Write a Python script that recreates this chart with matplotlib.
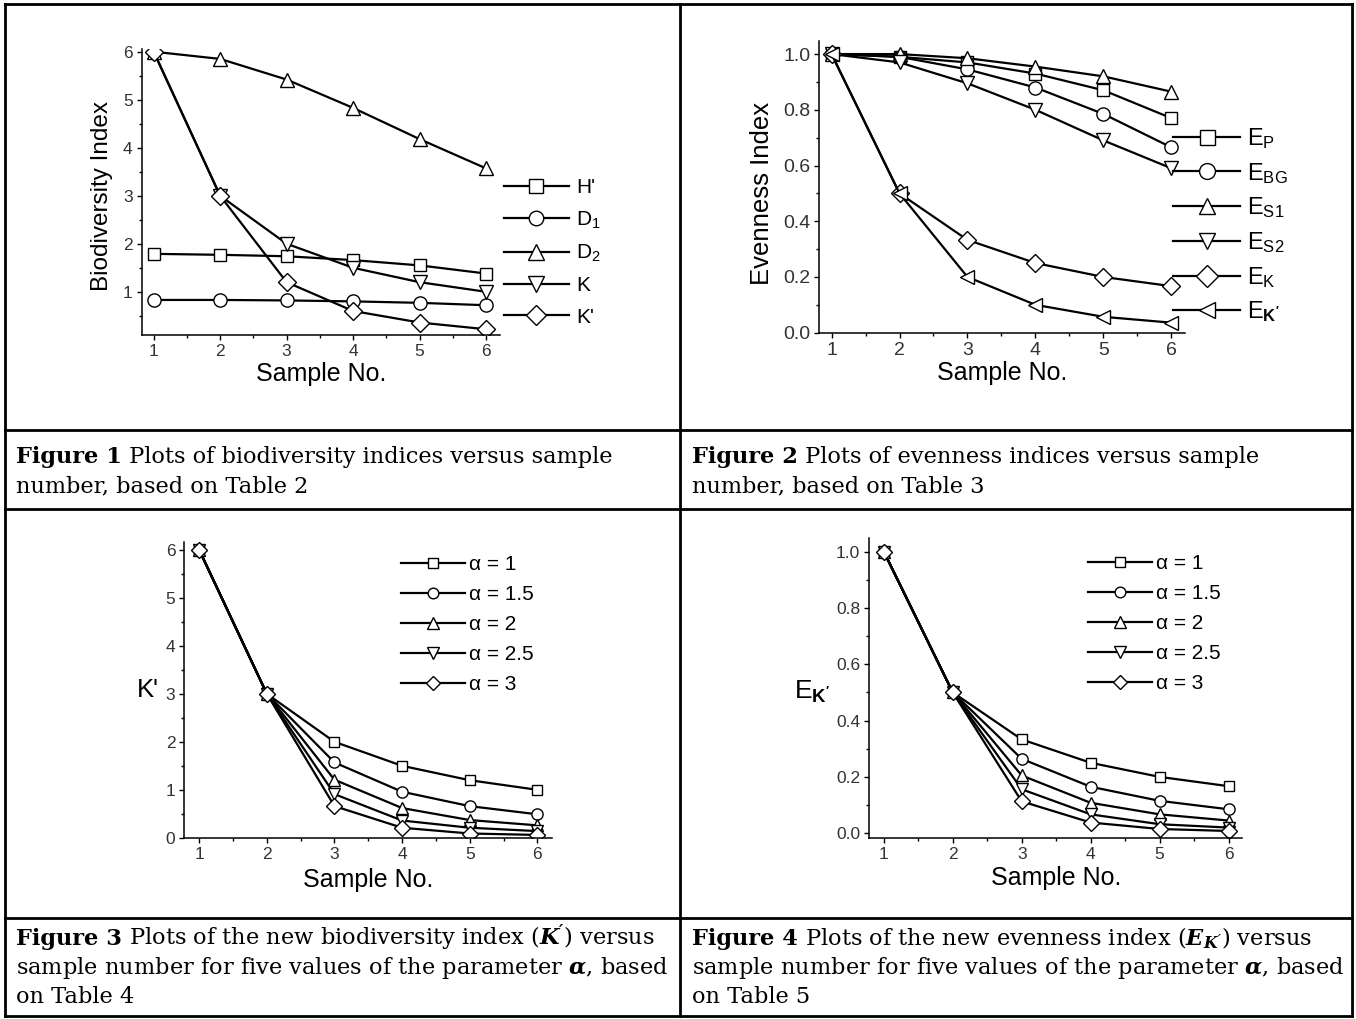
import matplotlib

matplotlib.use("Agg")

import matplotlib.pyplot as plt
from matplotlib.lines import Line2D
from matplotlib.ticker import MultipleLocator

W, H = 1356, 1019

plt.rcParams["font.family"] = ["Liberation Sans", "DejaVu Sans"]
plt.rcParams["mathtext.fontset"] = "custom"
plt.rcParams["mathtext.default"] = "regular"
plt.rcParams["mathtext.rm"] = "Liberation Sans"
plt.rcParams["mathtext.bf"] = "Liberation Sans:bold"
plt.rcParams["mathtext.bfit"] = "DejaVu Serif:italic:bold"

TICK_FONT = ["Liberation Sans Narrow", "Liberation Sans", "DejaVu Sans"]
CAP_FONT = ["DejaVu Serif", "Liberation Serif"]

samples = [1, 2, 3, 4, 5, 6]

# Figure 1 - biodiversity indices (Table 2)
bio_labels = ["H'", "D$_1$", "D$_2$", "K", "K'"]
bio_H = [1.79, 1.77, 1.74, 1.66, 1.55, 1.38]
bio_D1 = [0.83, 0.83, 0.82, 0.80, 0.77, 0.72]
bio_D2 = [6.0, 5.85, 5.42, 4.83, 4.18, 3.57]
bio_K = [6.0, 3.0, 2.0, 1.5, 1.2, 1.0]
bio_Kp = [6.0, 3.0, 1.2, 0.6, 0.36, 0.22]

# Figure 2 - evenness indices (Table 3)
even_labels = ["E$_{P}$", "E$_{BG}$", "E$_{S1}$", "E$_{S2}$", "E$_{K}$",
               r"E$_{\mathbf{K'}}$"]
even_P = [1.0, 0.99, 0.97, 0.93, 0.87, 0.77]
even_BG = [1.0, 0.99, 0.945, 0.88, 0.785, 0.665]
even_S1 = [1.0, 1.0, 0.985, 0.955, 0.92, 0.865]
even_S2 = [1.0, 0.97, 0.895, 0.80, 0.69, 0.59]
even_K = [1.0, 0.5, 0.333, 0.25, 0.2, 0.167]
even_Kp = [1.0, 0.5, 0.2, 0.1, 0.057, 0.036]

# Figure 3 - K' for five alpha values (Table 4)
alpha_labels = ["\u03b1 = 1", "\u03b1 = 1.5", "\u03b1 = 2", "\u03b1 = 2.5", "\u03b1 = 3"]
kp_a1 = [6.0, 3.0, 2.0, 1.5, 1.2, 1.0]
kp_a15 = [6.0, 3.0, 1.57, 0.96, 0.66, 0.49]
kp_a2 = [6.0, 3.0, 1.21, 0.62, 0.37, 0.26]
kp_a25 = [6.0, 3.0, 0.91, 0.36, 0.21, 0.14]
kp_a3 = [6.0, 3.0, 0.66, 0.21, 0.09, 0.06]

# Figure 4 - E_K' for five alpha values (Table 5)
ek_a1 = [1.0, 0.5, 0.333, 0.25, 0.2, 0.167]
ek_a15 = [1.0, 0.5, 0.264, 0.165, 0.115, 0.085]
ek_a2 = [1.0, 0.5, 0.205, 0.108, 0.067, 0.045]
ek_a25 = [1.0, 0.5, 0.156, 0.067, 0.032, 0.020]
ek_a3 = [1.0, 0.5, 0.113, 0.038, 0.015, 0.008]

MARKERS = ["s", "o", "^", "v", "D", "<"]
MSIZE = {"s": 9, "o": 9.5, "^": 10, "v": 10, "D": 9, "<": 10}

fig = plt.figure(figsize=(W / 100, H / 100), dpi=100)


def add_axes_px(l, t, r, b):
    return fig.add_axes([l / W, 1 - b / H, (r - l) / W, (b - t) / H])


def style_axes(ax, tick_size):
    for s in ("top", "right"):
        ax.spines[s].set_visible(False)
    for s in ("left", "bottom"):
        ax.spines[s].set_linewidth(1.1)
    ax.tick_params(which="major", direction="out", length=3.5, width=1,
                   labelsize=tick_size, labelcolor="#333333", pad=3,
                   labelfontfamily=TICK_FONT)
    ax.tick_params(which="minor", direction="out", length=2, width=1)
    ax.xaxis.set_major_locator(MultipleLocator(1))
    ax.xaxis.set_minor_locator(MultipleLocator(0.5))


def draw_series(ax, series, labels, scale=1.0, lw=1.6):
    for ys, lab, m in zip(series, labels, MARKERS):
        ax.plot(samples, ys, color="black", lw=lw, marker=m,
                markersize=MSIZE[m] * scale, markerfacecolor="white",
                markeredgecolor="black", markeredgewidth=1.0, label=lab)


def set_labels(ax, xlab_y, ylab, ylab_xy, ylab_size, ylab_rot=90):
    ax.set_xlabel("Sample No.", fontsize=18)
    ax.xaxis.label.set_va("center")
    ax.xaxis.set_label_coords(0.5, xlab_y)
    ax.set_ylabel(ylab, fontsize=ylab_size, rotation=ylab_rot)
    ax.yaxis.label.set_va("center")
    ax.yaxis.label.set_ha("center")
    ax.yaxis.set_label_coords(*ylab_xy)


def legend_at(ax, x, y, size, hlen, tpad, lspace, mscale):
    ax.legend(loc="upper left", bbox_to_anchor=(x / W, 1 - y / H),
              bbox_transform=fig.transFigure, frameon=False, fontsize=size,
              borderpad=0, borderaxespad=0, handlelength=hlen,
              handletextpad=tpad, labelspacing=lspace, markerscale=mscale)


# ---- Figure 1 ----
ax1 = add_axes_px(141.7, 49.3, 500, 335)
draw_series(ax1, [bio_H, bio_D1, bio_D2, bio_K, bio_Kp], bio_labels)
ax1.set_xlim(0.82, 6.21)
ax1.set_ylim(0.1, 6.05)
style_axes(ax1, 12.5)
ax1.yaxis.set_major_locator(MultipleLocator(1))
ax1.yaxis.set_minor_locator(MultipleLocator(0.5))
set_labels(ax1, -0.137, "Biodiversity Index", (-0.112, 0.487), 17.5)
legend_at(ax1, 504, 178, 15, 3.1, 0.35, 0.59, 1.1)

# ---- Figure 2 ----
ax2 = add_axes_px(819.3, 40.7, 1185, 332.7)
draw_series(ax2, [even_P, even_BG, even_S1, even_S2, even_K, even_Kp],
            even_labels)
ax2.set_xlim(0.82, 6.2)
ax2.set_ylim(0, 1.048)
style_axes(ax2, 14)
ax2.yaxis.set_major_locator(MultipleLocator(0.2))
ax2.yaxis.set_minor_locator(MultipleLocator(0.1))
ax2.yaxis.set_major_formatter(lambda v, p: f"{v:.1f}")
set_labels(ax2, -0.139, "Evenness Index", (-0.158, 0.477), 18.5)
legend_at(ax2, 1173, 126, 17, 2.85, 0.28, 0.415, 1.2)

# ---- Figure 3 ----
ax3 = add_axes_px(184.3, 541.7, 551.6, 838.3)
draw_series(ax3, [kp_a1, kp_a15, kp_a2, kp_a25, kp_a3], alpha_labels,
            scale=0.85)
ax3.set_xlim(0.78, 6.21)
ax3.set_ylim(-0.01, 6.17)
style_axes(ax3, 12.5)
ax3.yaxis.set_major_locator(MultipleLocator(1))
ax3.yaxis.set_minor_locator(MultipleLocator(0.5))
set_labels(ax3, -0.099, "K'", (-0.1, 0.5), 18.5, ylab_rot=0)
ax3.xaxis.set_label_coords(0.5, -0.141)
legend_at(ax3, 400.7, 555, 15, 3.1, 0.16, 0.53, 0.95)

# ---- Figure 4 ----
ax4 = add_axes_px(869.3, 538.3, 1242.4, 838.3)
draw_series(ax4, [ek_a1, ek_a15, ek_a2, ek_a25, ek_a3], alpha_labels,
            scale=0.85)
ax4.set_xlim(0.79, 6.2)
ax4.set_ylim(-0.018, 1.047)
style_axes(ax4, 12.5)
ax4.yaxis.set_major_locator(MultipleLocator(0.2))
ax4.yaxis.set_minor_locator(MultipleLocator(0.1))
ax4.yaxis.set_major_formatter(lambda v, p: f"{v:.1f}")
set_labels(ax4, -0.134, r"E$_{\mathbf{K'}}$", (-0.154, 0.488), 19, ylab_rot=0)
legend_at(ax4, 1087.6, 554, 15, 3.1, 0.16, 0.53, 0.95)


# ---- table frame ----
def hline(y, x0=5, x1=1352):
    fig.add_artist(Line2D([x0 / W, x1 / W], [1 - y / H, 1 - y / H],
                          transform=fig.transFigure, color="black", lw=2))


def vline(x, y0=4, y1=1016):
    fig.add_artist(Line2D([x / W, x / W], [1 - y0 / H, 1 - y1 / H],
                          transform=fig.transFigure, color="black", lw=2))


for y in (4, 430, 509, 918, 1016):
    hline(y)
for x in (5, 680, 1352):
    vline(x)

# ---- captions ----
CAP_SIZE = 16.2
LINE_STEP = 29
renderer = fig.canvas.get_renderer()


def caption(x, y, bold, first, others):
    t = fig.text(x / W, 1 - y / H, bold, fontsize=CAP_SIZE, fontweight="bold",
                 family=CAP_FONT, va="baseline", ha="left")
    x1 = t.get_window_extent(renderer).x1
    fig.text(x1 / W, 1 - y / H, first, fontsize=CAP_SIZE, family=CAP_FONT,
             va="baseline", ha="left")
    for i, line in enumerate(others, start=1):
        fig.text(x / W, 1 - (y + i * LINE_STEP) / H, line, fontsize=CAP_SIZE,
                 family=CAP_FONT, va="baseline", ha="left")


caption(16, 463, "Figure 1", " Plots of biodiversity indices versus sample",
        ["number, based on Table 2"])
caption(692, 463, "Figure 2", " Plots of evenness indices versus sample",
        ["number, based on Table 3"])
caption(16, 945, "Figure 3",
        r" Plots of the new biodiversity index ($\mathbfit{K'}$) versus",
        [r"sample number for five values of the parameter $\mathbfit{\alpha}$, based",
         "on Table 4"])
caption(692, 945, "Figure 4",
        r" Plots of the new evenness index ($\mathbfit{E_{K'}}$) versus",
        [r"sample number for five values of the parameter $\mathbfit{\alpha}$, based",
         "on Table 5"])

fig.savefig("out.png", dpi=100)
